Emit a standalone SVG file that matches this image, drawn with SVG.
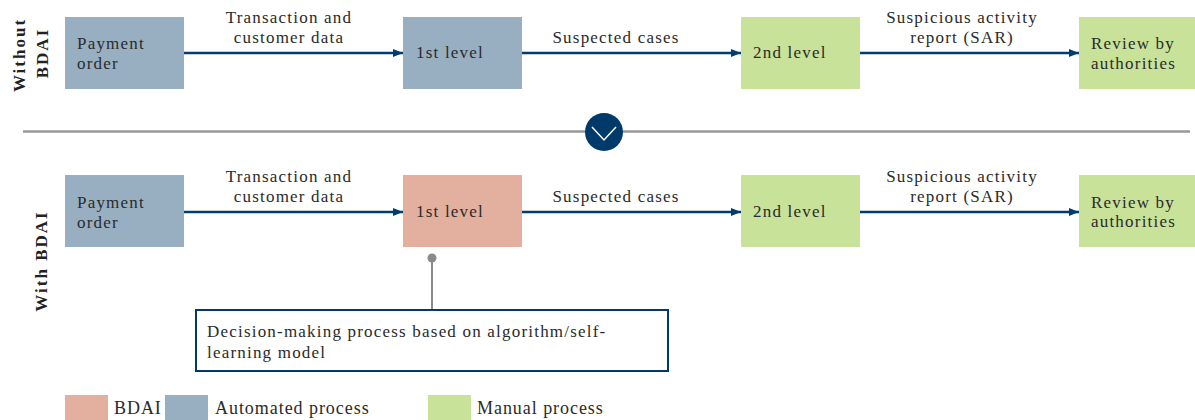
<svg xmlns="http://www.w3.org/2000/svg" width="1195" height="420" viewBox="0 0 1195 420">
<style>
.t{font-family:'Liberation Serif','DejaVu Serif',serif;fill:#2a2a2a;font-size:17px;letter-spacing:1.2px}
.lg{font-size:18px;letter-spacing:0.95px}
.side{font-family:'Liberation Serif','DejaVu Serif',serif;font-weight:bold;font-size:17px;fill:#222;letter-spacing:2px;text-anchor:middle}
.mid{text-anchor:middle}
.auto{fill:#98afc2}
.bdai{fill:#e3b09f}
.man{fill:#c9e29a}
.conn{stroke:#003c6e;stroke-width:2.5;fill:none;marker-end:url(#ah)}
</style>
<defs>
<marker id="ah" viewBox="0 0 10 8" refX="10" refY="4" markerWidth="10" markerHeight="8" markerUnits="userSpaceOnUse" orient="auto">
<path d="M0,0 L10,4 L0,8 z" fill="#003c6e"/>
</marker>
</defs>
<rect width="1195" height="420" fill="#fff"/>

<g id="side-labels">
<text class="side" transform="translate(25,55) rotate(-90)">Without</text>
<text class="side" transform="translate(48,53) rotate(-90)">BDAI</text>
<text class="side" transform="translate(47,261) rotate(-90)">With BDAI</text>
</g>

<g id="separator">
<line x1="23" y1="131.5" x2="1190" y2="131.5" stroke="#999" stroke-width="2.5"/>
<circle cx="604" cy="132" r="19" fill="#003a6b"/>
<polyline points="592,127 604,140 616,127" fill="none" stroke="#fff" stroke-width="1.5"/>
</g>

<g id="connectors">
<line class="conn" x1="184" y1="53" x2="403" y2="53"/>
<line class="conn" x1="522" y1="53" x2="741" y2="53"/>
<line class="conn" x1="860" y1="53" x2="1079" y2="53"/>
<line class="conn" x1="184" y1="212" x2="403" y2="212"/>
<line class="conn" x1="522" y1="212" x2="741" y2="212"/>
<line class="conn" x1="860" y1="212" x2="1079" y2="212"/>
<line x1="432" y1="258" x2="432" y2="310" stroke="#8a8a8a" stroke-width="2"/>
<circle cx="432" cy="258" r="4.5" fill="#8a8a8a"/>
</g>

<g id="edge-labels">
<text class="t mid" x="289" y="23">Transaction and</text>
<text class="t mid" x="289" y="43">customer data</text>
<text class="t mid" x="616" y="43">Suspected cases</text>
<text class="t mid" x="962" y="23">Suspicious activity</text>
<text class="t mid" x="962" y="43">report (SAR)</text>
<text class="t mid" x="289" y="182">Transaction and</text>
<text class="t mid" x="289" y="202">customer data</text>
<text class="t mid" x="616" y="202">Suspected cases</text>
<text class="t mid" x="962" y="182">Suspicious activity</text>
<text class="t mid" x="962" y="202">report (SAR)</text>
</g>

<g id="top-payment"><rect class="auto" x="65" y="17" width="119" height="72"/><text class="t" x="77" y="49">Payment</text><text class="t" x="77" y="69">order</text></g>
<g id="top-level1"><rect class="auto" x="403" y="17" width="119" height="72"/><text class="t" x="416" y="58">1st level</text></g>
<g id="top-level2"><rect class="man" x="741" y="17" width="119" height="72"/><text class="t" x="753" y="58">2nd level</text></g>
<g id="top-review"><rect class="man" x="1079" y="17" width="119" height="72"/><text class="t" x="1091" y="49">Review by</text><text class="t" x="1091" y="69">authorities</text></g>

<g id="bot-payment"><rect class="auto" x="65" y="175" width="119" height="72"/><text class="t" x="77" y="208">Payment</text><text class="t" x="77" y="228">order</text></g>
<g id="bot-level1"><rect class="bdai" x="403" y="175" width="119" height="72"/><text class="t" x="416" y="217">1st level</text></g>
<g id="bot-level2"><rect class="man" x="741" y="175" width="119" height="72"/><text class="t" x="753" y="217">2nd level</text></g>
<g id="bot-review"><rect class="man" x="1079" y="175" width="119" height="72"/><text class="t" x="1091" y="208">Review by</text><text class="t" x="1091" y="227">authorities</text></g>

<g id="annotation">
<rect x="196" y="310" width="472" height="61" fill="#fff" stroke="#003a6b" stroke-width="2"/>
<text class="t" x="207" y="337">Decision-making process based on algorithm/self-</text>
<text class="t" x="207" y="358">learning model</text>
</g>

<g id="legend">
<rect class="bdai" x="65" y="395" width="43" height="25"/>
<text class="t lg" x="114" y="414">BDAI</text>
<rect class="auto" x="165" y="395" width="43" height="25"/>
<text class="t lg" x="215" y="414">Automated process</text>
<rect class="man" x="428" y="395" width="43" height="25"/>
<text class="t lg" x="477" y="414">Manual process</text>
</g>
</svg>
